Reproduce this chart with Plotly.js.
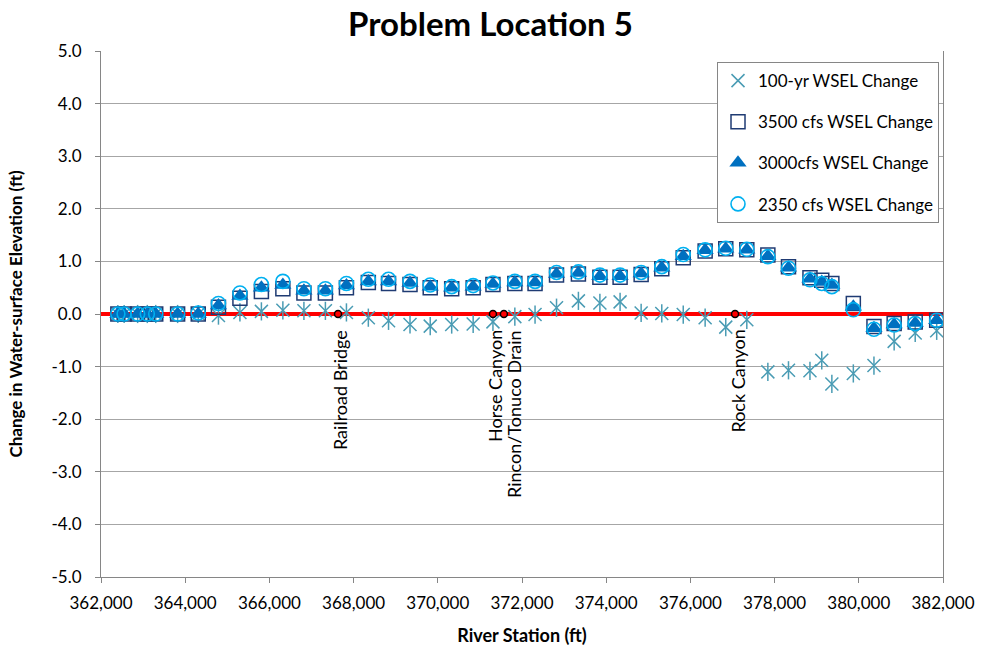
<!DOCTYPE html>
<html>
<head>
<meta charset="utf-8">
<script src="https://cdn.plot.ly/plotly-3.0.1.min.js"></script>
<style>html,body{margin:0;padding:0;background:#fff;}#chart{width:981px;height:648px;}</style>
</head>
<body>
<div id="chart"></div>
<script>
// River stations (ft)
const stations = [362400, 362550, 362870, 363100, 363300, 363820, 364310, 364790, 365300, 365810,
  366320, 366820, 367330, 367830, 368350, 368830, 369340, 369820, 370330, 370840,
  371310, 371830, 372310, 372820, 373340, 373850, 374330, 374830, 375320, 375830,
  376350, 376840, 377340, 377840, 378330, 378840, 379120, 379360, 379870, 380360,
  380840, 381340, 381850];

// Change in WSEL (ft)
const wsel100yr = [0.00, 0.00, 0.00, 0.00, 0.00, 0.00, 0.00, -0.03, 0.03, 0.05,
  0.07, 0.06, 0.06, 0.03, -0.07, -0.13, -0.20, -0.23, -0.20, -0.19,
  -0.15, -0.05, -0.01, 0.12, 0.25, 0.21, 0.23, 0.02, 0.01, -0.01,
  -0.07, -0.25, -0.11, -1.10, -1.07, -1.08, -0.88, -1.33, -1.13, -0.98,
  -0.52, -0.36, -0.32];

const wsel3500 = [0.00, 0.00, 0.00, 0.00, 0.00, 0.00, 0.00, 0.13, 0.30, 0.43,
  0.48, 0.40, 0.40, 0.50, 0.60, 0.58, 0.56, 0.50, 0.48, 0.50,
  0.56, 0.58, 0.58, 0.74, 0.76, 0.70, 0.70, 0.75, 0.86, 1.07,
  1.20, 1.24, 1.22, 1.12, 0.90, 0.69, 0.64, 0.58, 0.20, -0.24,
  -0.18, -0.15, -0.12];

const wsel3000 = [0.00, 0.00, 0.00, 0.00, 0.00, 0.00, 0.00, 0.16, 0.34, 0.50,
  0.55, 0.44, 0.44, 0.54, 0.62, 0.62, 0.59, 0.52, 0.50, 0.52,
  0.57, 0.60, 0.60, 0.76, 0.78, 0.72, 0.72, 0.77, 0.88, 1.10,
  1.21, 1.24, 1.22, 1.10, 0.88, 0.67, 0.61, 0.55, 0.14, -0.27,
  -0.20, -0.17, -0.12];

const wsel2350 = [0.00, 0.00, 0.00, 0.00, 0.00, 0.00, 0.02, 0.20, 0.40, 0.56,
  0.62, 0.48, 0.48, 0.58, 0.66, 0.66, 0.62, 0.55, 0.52, 0.54,
  0.59, 0.62, 0.62, 0.79, 0.80, 0.74, 0.74, 0.79, 0.90, 1.13,
  1.22, 1.25, 1.23, 1.09, 0.87, 0.65, 0.58, 0.52, 0.08, -0.29,
  -0.21, -0.18, -0.12];

// Landmarks along the river
const landmarkNames = ["Railroad Bridge", "Horse Canyon", "Rincon/Tonuco Drain", "Rock Canyon"];
const landmarkStations = [367630, 371310, 371570, 377060];
const landmarkValues = [0, 0, 0, 0];

// Axis ticks
const xTicks = [362000, 364000, 366000, 368000, 370000, 372000, 374000, 376000, 378000, 380000, 382000];
const yTicks = [-5, -4, -3, -2, -1, 0, 1, 2, 3, 4, 5];
const yTickLabels = ["-5.0", "-4.0", "-3.0", "-2.0", "-1.0", "0.0", "1.0", "2.0", "3.0", "4.0", "5.0"];

const FONT = "Lato, 'Open Sans', 'Liberation Sans', sans-serif";
const starColor = "#4A9CB4";
const labelShift = [2, 2, 10, 2];

const traces = [
  {x: stations, y: wsel100yr, type: "scatter", mode: "markers", name: "100-yr WSEL Change",
   legendgroup: "g1",
   marker: {symbol: "x-thin-open", size: 13, color: starColor, line: {color: starColor, width: 1.5}}},
  {x: stations, y: wsel100yr, type: "scatter", mode: "markers", name: "100-yr WSEL Change",
   legendgroup: "g1", showlegend: false,
   marker: {symbol: "line-ns-open", size: 13, color: starColor, line: {color: starColor, width: 1.5}}},
  {x: stations, y: wsel3500, type: "scatter", mode: "markers", name: "3500 cfs WSEL Change",
   legendgroup: "g2",
   marker: {symbol: "square-open", size: 14, color: "#1F3B73", line: {color: "#1F3B73", width: 1.5}}},
  {x: stations, y: wsel3000, type: "scatter", mode: "markers", name: "3000cfs WSEL Change",
   legendgroup: "g3",
   marker: {symbol: "triangle-up", size: 15, color: "#0070C0", line: {width: 0}}},
  {x: stations, y: wsel2350, type: "scatter", mode: "markers", name: "2350 cfs WSEL Change",
   legendgroup: "g4",
   marker: {symbol: "circle-open", size: 14, color: "#00B0F0", line: {color: "#00B0F0", width: 1.6}}},
  {x: landmarkStations, y: landmarkValues, type: "scatter", mode: "markers", showlegend: false,
   hoverinfo: "skip",
   marker: {symbol: "circle", size: 7, color: "#FF0000", line: {color: "#000000", width: 1.5}}}
];

const annotations = landmarkNames.map((name, i) => ({
  x: landmarkStations[i], y: landmarkValues[i], xref: "x", yref: "y",
  text: name, showarrow: false, textangle: -90,
  xanchor: "center", yanchor: "top", xshift: labelShift[i], yshift: -14,
  font: {family: FONT, size: 18, color: "#000"}
}));

const layout = {
  width: 981, height: 648,
  margin: {l: 101, r: 38, t: 51, b: 71},
  paper_bgcolor: "#fff", plot_bgcolor: "#fff",
  font: {family: FONT, color: "#000"},
  title: {text: "<b>Problem Location 5</b>", font: {family: FONT, size: 33, color: "#000"},
          x: 0.5, xanchor: "center", y: 0.962, yanchor: "middle"},
  showlegend: true,
  legend: {x: 0.7316, y: 0.979, xanchor: "left", yanchor: "top",
           bgcolor: "#fff", bordercolor: "#868686", borderwidth: 1,
           font: {family: FONT, size: 17, color: "#000"},
           traceorder: "grouped", tracegroupgap: 16},
  xaxis: {range: [362000, 382000], tickvals: xTicks, tickformat: ",d",
          ticks: "outside", ticklen: 5, tickcolor: "#868686", ticklabelstandoff: 6,
          showline: true, linecolor: "#868686", linewidth: 1,
          showgrid: false, zeroline: false,
          tickfont: {family: FONT, size: 17, color: "#000"},
          title: {text: "<b>River Station (ft)</b>", font: {family: FONT, size: 18, color: "#000"}, standoff: 16}},
  yaxis: {range: [-5, 5], tickvals: yTicks, ticktext: yTickLabels,
          ticks: "outside", ticklen: 5, tickcolor: "#868686", ticklabelstandoff: 10,
          showline: true, linecolor: "#868686", linewidth: 1, mirror: true,
          showgrid: true, gridcolor: "#A6A6A6", gridwidth: 1,
          zeroline: true, zerolinecolor: "#FF0000", zerolinewidth: 4,
          tickfont: {family: FONT, size: 17, color: "#000"},
          title: {text: "<b>Change in Water-surface Elevation (ft)</b>", font: {family: FONT, size: 17, color: "#000"}, standoff: 24}},
  annotations: annotations
};

Plotly.newPlot("chart", traces, layout, {displayModeBar: false, responsive: false});
</script>
</body>
</html>
